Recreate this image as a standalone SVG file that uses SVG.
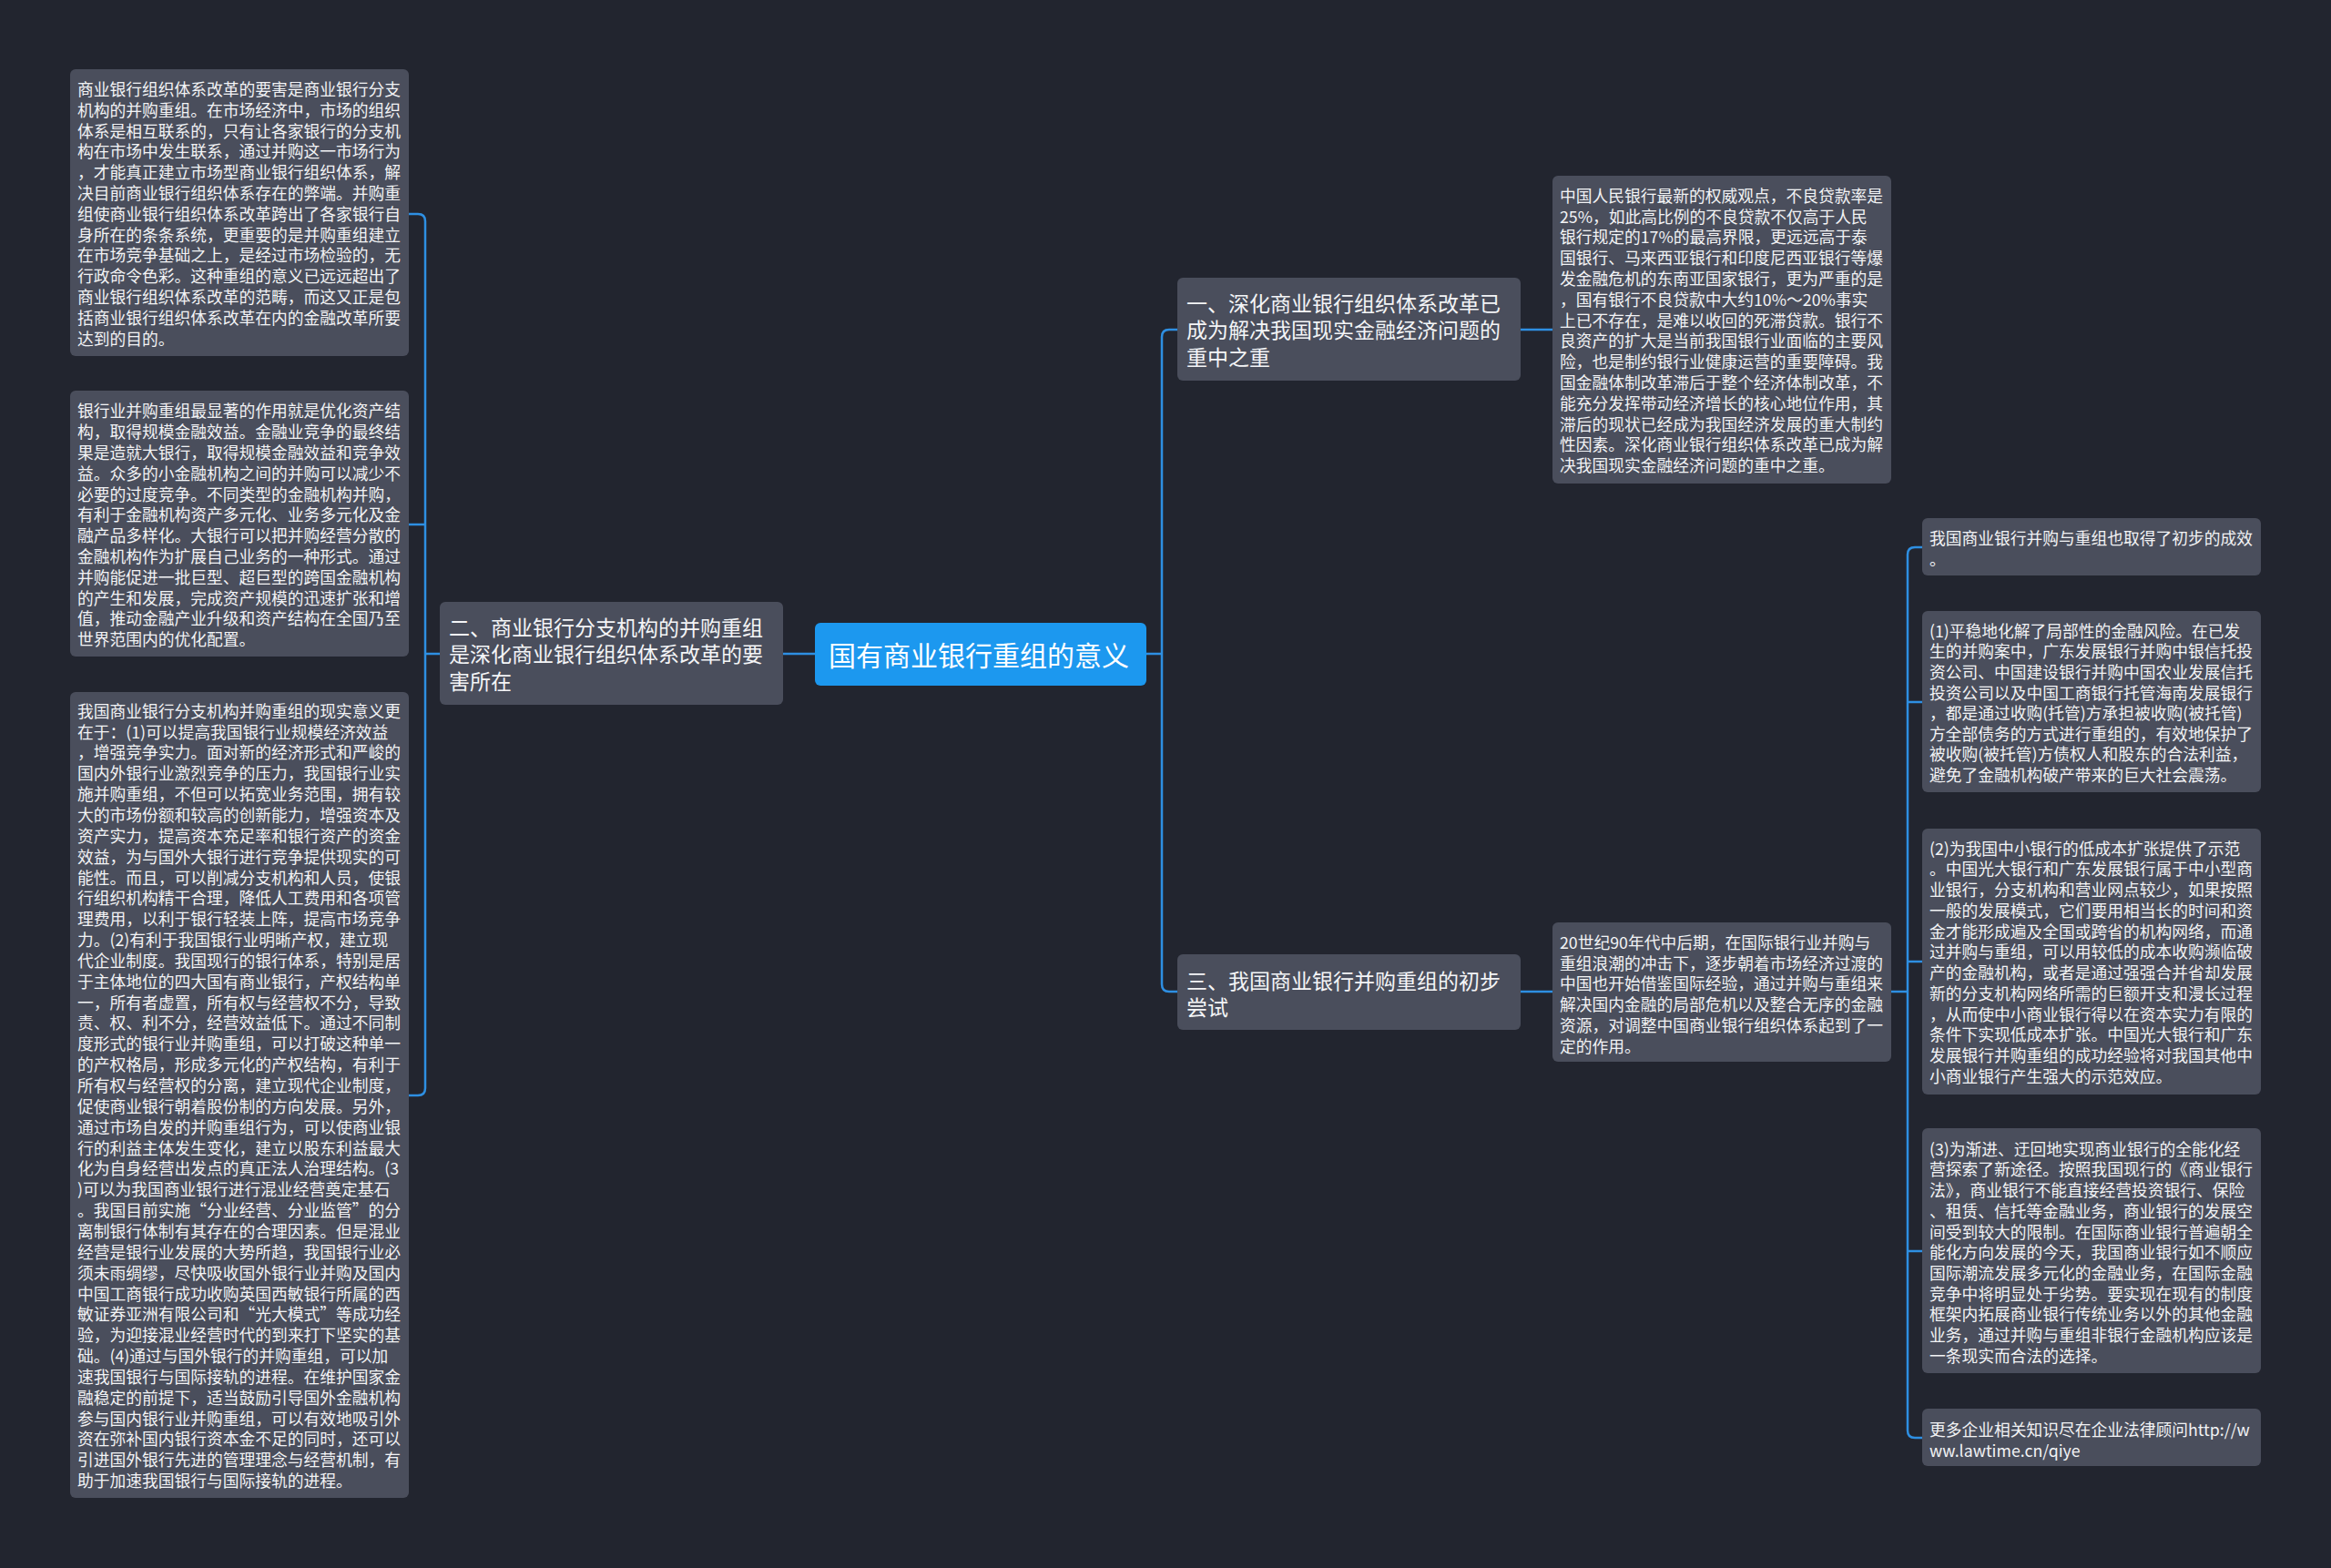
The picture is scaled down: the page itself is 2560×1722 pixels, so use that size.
<svg xmlns="http://www.w3.org/2000/svg" width="2560" height="1722" viewBox="0 0 2560 1722">
<style>
.bg{fill:#22252f}
.box{fill:#4a4e5c}
.ctr{fill:#1c98ef}
.t{font-family:"Noto Sans CJK SC","Noto Sans",sans-serif;fill:#f2f3f5;font-size:17.75px}
.tb{font-family:"Noto Sans CJK SC","Noto Sans",sans-serif;fill:#f4f5f7;font-size:23px}
.tc{font-family:"Noto Sans CJK SC","Noto Sans",sans-serif;fill:#ffffff;font-size:30px}
.ln{fill:none;stroke:#2e8fe2;stroke-width:2.5}
</style>
<rect class="bg" x="0" y="0" width="2560" height="1722"/>
<g id="connectors">
<path class="ln" d="M1259 718 H1276 M1293 362 H1284 Q1276 362 1276 370 V1081 Q1276 1089 1284 1089 H1293"/>
<path class="ln" d="M860 718 H895"/>
<path class="ln" d="M483 718 H467 M449 235 H459 Q467 235 467 243 V1195 Q467 1203 459 1203 H449 M467 576 H449"/>
<path class="ln" d="M1670 362 H1705"/>
<path class="ln" d="M1670 1089 H1705"/>
<path class="ln" d="M2077 1089 H2095 M2111 601 H2103 Q2095 601 2095 609 V1571 Q2095 1579 2103 1579 H2111 M2095 771 H2111 M2095 1056 H2111 M2095 1374 H2111"/>
</g>
<g id="center">
<rect class="ctr" x="895" y="684" width="364" height="69" rx="6"/>
<text class="tc" x="910" y="731">国有商业银行重组的意义</text>
</g>
<g id="branch1">
<rect class="box" x="1293" y="305" width="377" height="113" rx="6"/>
<text class="tb" x="1303" y="341.7"><tspan x="1303">一、深化商业银行组织体系改革已</tspan><tspan x="1303" dy="29.5">成为解决我国现实金融经济问题的</tspan><tspan x="1303" dy="29.5">重中之重</tspan></text>
</g>
<g id="branch2">
<rect class="box" x="483" y="661" width="377" height="113" rx="6"/>
<text class="tb" x="493" y="697.7"><tspan x="493">二、商业银行分支机构的并购重组</tspan><tspan x="493" dy="29.5">是深化商业银行组织体系改革的要</tspan><tspan x="493" dy="29.5">害所在</tspan></text>
</g>
<g id="branch3">
<rect class="box" x="1293" y="1048" width="377" height="83" rx="6"/>
<text class="tb" x="1303" y="1085.7"><tspan x="1303">三、我国商业银行并购重组的初步</tspan><tspan x="1303" dy="29.5">尝试</tspan></text>
</g>
<g id="left1">
<rect class="box" x="77" y="76" width="372" height="315" rx="6"/>
<text class="t" x="85" y="105"><tspan x="85">商业银行组织体系改革的要害是商业银行分支</tspan><tspan x="85" dy="22.8">机构的并购重组。在市场经济中，市场的组织</tspan><tspan x="85" dy="22.8">体系是相互联系的，只有让各家银行的分支机</tspan><tspan x="85" dy="22.8">构在市场中发生联系，通过并购这一市场行为</tspan><tspan x="85" dy="22.8">，才能真正建立市场型商业银行组织体系，解</tspan><tspan x="85" dy="22.8">决目前商业银行组织体系存在的弊端。并购重</tspan><tspan x="85" dy="22.8">组使商业银行组织体系改革跨出了各家银行自</tspan><tspan x="85" dy="22.8">身所在的条条系统，更重要的是并购重组建立</tspan><tspan x="85" dy="22.8">在市场竞争基础之上，是经过市场检验的，无</tspan><tspan x="85" dy="22.8">行政命令色彩。这种重组的意义已远远超出了</tspan><tspan x="85" dy="22.8">商业银行组织体系改革的范畴，而这又正是包</tspan><tspan x="85" dy="22.8">括商业银行组织体系改革在内的金融改革所要</tspan><tspan x="85" dy="22.8">达到的目的。</tspan></text>
</g>
<g id="left2">
<rect class="box" x="77" y="429" width="372" height="292" rx="6"/>
<text class="t" x="85" y="458.4"><tspan x="85">银行业并购重组最显著的作用就是优化资产结</tspan><tspan x="85" dy="22.8">构，取得规模金融效益。金融业竞争的最终结</tspan><tspan x="85" dy="22.8">果是造就大银行，取得规模金融效益和竞争效</tspan><tspan x="85" dy="22.8">益。众多的小金融机构之间的并购可以减少不</tspan><tspan x="85" dy="22.8">必要的过度竞争。不同类型的金融机构并购，</tspan><tspan x="85" dy="22.8">有利于金融机构资产多元化、业务多元化及金</tspan><tspan x="85" dy="22.8">融产品多样化。大银行可以把并购经营分散的</tspan><tspan x="85" dy="22.8">金融机构作为扩展自己业务的一种形式。通过</tspan><tspan x="85" dy="22.8">并购能促进一批巨型、超巨型的跨国金融机构</tspan><tspan x="85" dy="22.8">的产生和发展，完成资产规模的迅速扩张和增</tspan><tspan x="85" dy="22.8">值，推动金融产业升级和资产结构在全国乃至</tspan><tspan x="85" dy="22.8">世界范围内的优化配置。</tspan></text>
</g>
<g id="left3">
<rect class="box" x="77" y="760" width="372" height="885" rx="6"/>
<text class="t" x="85" y="787.7"><tspan x="85">我国商业银行分支机构并购重组的现实意义更</tspan><tspan x="85" dy="22.85">在于：(1)可以提高我国银行业规模经济效益</tspan><tspan x="85" dy="22.85">，增强竞争实力。面对新的经济形式和严峻的</tspan><tspan x="85" dy="22.85">国内外银行业激烈竞争的压力，我国银行业实</tspan><tspan x="85" dy="22.85">施并购重组，不但可以拓宽业务范围，拥有较</tspan><tspan x="85" dy="22.85">大的市场份额和较高的创新能力，增强资本及</tspan><tspan x="85" dy="22.85">资产实力，提高资本充足率和银行资产的资金</tspan><tspan x="85" dy="22.85">效益，为与国外大银行进行竞争提供现实的可</tspan><tspan x="85" dy="22.85">能性。而且，可以削减分支机构和人员，使银</tspan><tspan x="85" dy="22.85">行组织机构精干合理，降低人工费用和各项管</tspan><tspan x="85" dy="22.85">理费用，以利于银行轻装上阵，提高市场竞争</tspan><tspan x="85" dy="22.85">力。(2)有利于我国银行业明晰产权，建立现</tspan><tspan x="85" dy="22.85">代企业制度。我国现行的银行体系，特别是居</tspan><tspan x="85" dy="22.85">于主体地位的四大国有商业银行，产权结构单</tspan><tspan x="85" dy="22.85">一，所有者虚置，所有权与经营权不分，导致</tspan><tspan x="85" dy="22.85">责、权、利不分，经营效益低下。通过不同制</tspan><tspan x="85" dy="22.85">度形式的银行业并购重组，可以打破这种单一</tspan><tspan x="85" dy="22.85">的产权格局，形成多元化的产权结构，有利于</tspan><tspan x="85" dy="22.85">所有权与经营权的分离，建立现代企业制度，</tspan><tspan x="85" dy="22.85">促使商业银行朝着股份制的方向发展。另外，</tspan><tspan x="85" dy="22.85">通过市场自发的并购重组行为，可以使商业银</tspan><tspan x="85" dy="22.85">行的利益主体发生变化，建立以股东利益最大</tspan><tspan x="85" dy="22.85">化为自身经营出发点的真正法人治理结构。(3</tspan><tspan x="85" dy="22.85">)可以为我国商业银行进行混业经营奠定基石</tspan><tspan x="85" dy="22.85">。我国目前实施“分业经营、分业监管”的分</tspan><tspan x="85" dy="22.85">离制银行体制有其存在的合理因素。但是混业</tspan><tspan x="85" dy="22.85">经营是银行业发展的大势所趋，我国银行业必</tspan><tspan x="85" dy="22.85">须未雨绸缪，尽快吸收国外银行业并购及国内</tspan><tspan x="85" dy="22.85">中国工商银行成功收购英国西敏银行所属的西</tspan><tspan x="85" dy="22.85">敏证券亚洲有限公司和“光大模式”等成功经</tspan><tspan x="85" dy="22.85">验，为迎接混业经营时代的到来打下坚实的基</tspan><tspan x="85" dy="22.85">础。(4)通过与国外银行的并购重组，可以加</tspan><tspan x="85" dy="22.85">速我国银行与国际接轨的进程。在维护国家金</tspan><tspan x="85" dy="22.85">融稳定的前提下，适当鼓励引导国外金融机构</tspan><tspan x="85" dy="22.85">参与国内银行业并购重组，可以有效地吸引外</tspan><tspan x="85" dy="22.85">资在弥补国内银行资本金不足的同时，还可以</tspan><tspan x="85" dy="22.85">引进国外银行先进的管理理念与经营机制，有</tspan><tspan x="85" dy="22.85">助于加速我国银行与国际接轨的进程。</tspan></text>
</g>
<g id="right1">
<rect class="box" x="1705" y="193" width="372" height="338" rx="6"/>
<text class="t" x="1713" y="221.7"><tspan x="1713">中国人民银行最新的权威观点，不良贷款率是</tspan><tspan x="1713" dy="22.8">25%，如此高比例的不良贷款不仅高于人民</tspan><tspan x="1713" dy="22.8">银行规定的17%的最高界限，更远远高于泰</tspan><tspan x="1713" dy="22.8">国银行、马来西亚银行和印度尼西亚银行等爆</tspan><tspan x="1713" dy="22.8">发金融危机的东南亚国家银行，更为严重的是</tspan><tspan x="1713" dy="22.8">，国有银行不良贷款中大约10%～20%事实</tspan><tspan x="1713" dy="22.8">上已不存在，是难以收回的死滞贷款。银行不</tspan><tspan x="1713" dy="22.8">良资产的扩大是当前我国银行业面临的主要风</tspan><tspan x="1713" dy="22.8">险，也是制约银行业健康运营的重要障碍。我</tspan><tspan x="1713" dy="22.8">国金融体制改革滞后于整个经济体制改革，不</tspan><tspan x="1713" dy="22.8">能充分发挥带动经济增长的核心地位作用，其</tspan><tspan x="1713" dy="22.8">滞后的现状已经成为我国经济发展的重大制约</tspan><tspan x="1713" dy="22.8">性因素。深化商业银行组织体系改革已成为解</tspan><tspan x="1713" dy="22.8">决我国现实金融经济问题的重中之重。</tspan></text>
</g>
<g id="right2">
<rect class="box" x="1705" y="1013" width="372" height="153" rx="6"/>
<text class="t" x="1713" y="1041.7"><tspan x="1713">20世纪90年代中后期，在国际银行业并购与</tspan><tspan x="1713" dy="22.8">重组浪潮的冲击下，逐步朝着市场经济过渡的</tspan><tspan x="1713" dy="22.8">中国也开始借鉴国际经验，通过并购与重组来</tspan><tspan x="1713" dy="22.8">解决国内金融的局部危机以及整合无序的金融</tspan><tspan x="1713" dy="22.8">资源，对调整中国商业银行组织体系起到了一</tspan><tspan x="1713" dy="22.8">定的作用。</tspan></text>
</g>
<g id="leaf1">
<rect class="box" x="2111" y="569" width="372" height="63" rx="6"/>
<text class="t" x="2119" y="597.7"><tspan x="2119">我国商业银行并购与重组也取得了初步的成效</tspan><tspan x="2119" dy="22.8">。</tspan></text>
</g>
<g id="leaf2">
<rect class="box" x="2111" y="671" width="372" height="199" rx="6"/>
<text class="t" x="2119" y="699.7"><tspan x="2119">(1)平稳地化解了局部性的金融风险。在已发</tspan><tspan x="2119" dy="22.6">生的并购案中，广东发展银行并购中银信托投</tspan><tspan x="2119" dy="22.6">资公司、中国建设银行并购中国农业发展信托</tspan><tspan x="2119" dy="22.6">投资公司以及中国工商银行托管海南发展银行</tspan><tspan x="2119" dy="22.6">，都是通过收购(托管)方承担被收购(被托管)</tspan><tspan x="2119" dy="22.6">方全部债务的方式进行重组的，有效地保护了</tspan><tspan x="2119" dy="22.6">被收购(被托管)方债权人和股东的合法利益，</tspan><tspan x="2119" dy="22.6">避免了金融机构破产带来的巨大社会震荡。</tspan></text>
</g>
<g id="leaf3">
<rect class="box" x="2111" y="910" width="372" height="292" rx="6"/>
<text class="t" x="2119" y="938.7"><tspan x="2119">(2)为我国中小银行的低成本扩张提供了示范</tspan><tspan x="2119" dy="22.75">。中国光大银行和广东发展银行属于中小型商</tspan><tspan x="2119" dy="22.75">业银行，分支机构和营业网点较少，如果按照</tspan><tspan x="2119" dy="22.75">一般的发展模式，它们要用相当长的时间和资</tspan><tspan x="2119" dy="22.75">金才能形成遍及全国或跨省的机构网络，而通</tspan><tspan x="2119" dy="22.75">过并购与重组，可以用较低的成本收购濒临破</tspan><tspan x="2119" dy="22.75">产的金融机构，或者是通过强强合并省却发展</tspan><tspan x="2119" dy="22.75">新的分支机构网络所需的巨额开支和漫长过程</tspan><tspan x="2119" dy="22.75">，从而使中小商业银行得以在资本实力有限的</tspan><tspan x="2119" dy="22.75">条件下实现低成本扩张。中国光大银行和广东</tspan><tspan x="2119" dy="22.75">发展银行并购重组的成功经验将对我国其他中</tspan><tspan x="2119" dy="22.75">小商业银行产生强大的示范效应。</tspan></text>
</g>
<g id="leaf4">
<rect class="box" x="2111" y="1239" width="372" height="269" rx="6"/>
<text class="t" x="2119" y="1268.7"><tspan x="2119">(3)为渐进、迂回地实现商业银行的全能化经</tspan><tspan x="2119" dy="22.7">营探索了新途径。按照我国现行的《商业银行</tspan><tspan x="2119" dy="22.7">法》，商业银行不能直接经营投资银行、保险</tspan><tspan x="2119" dy="22.7">、租赁、信托等金融业务，商业银行的发展空</tspan><tspan x="2119" dy="22.7">间受到较大的限制。在国际商业银行普遍朝全</tspan><tspan x="2119" dy="22.7">能化方向发展的今天，我国商业银行如不顺应</tspan><tspan x="2119" dy="22.7">国际潮流发展多元化的金融业务，在国际金融</tspan><tspan x="2119" dy="22.7">竞争中将明显处于劣势。要实现在现有的制度</tspan><tspan x="2119" dy="22.7">框架内拓展商业银行传统业务以外的其他金融</tspan><tspan x="2119" dy="22.7">业务，通过并购与重组非银行金融机构应该是</tspan><tspan x="2119" dy="22.7">一条现实而合法的选择。</tspan></text>
</g>
<g id="leaf5">
<rect class="box" x="2111" y="1547" width="372" height="63" rx="6"/>
<text class="t" x="2119" y="1576.7"><tspan x="2119">更多企业相关知识尽在企业法律顾问http://w</tspan><tspan x="2119" dy="22.8">ww.lawtime.cn/qiye</tspan></text>
</g>
</svg>
